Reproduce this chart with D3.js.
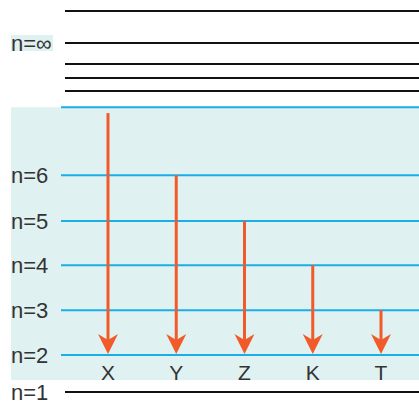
<!DOCTYPE html>
<html>
<head>
<meta charset="utf-8">
<script src="https://cdn.jsdelivr.net/npm/d3@7"></script>
<style>
  body { margin: 0; background: #fff; }
  text { font-family: "Liberation Sans", Arial, sans-serif; fill: #333; }
</style>
</head>
<body>
<div id="chart"></div>
<script>
// energy levels (not to scale, arbitrary units)
const levelLabels = ["n=1", "n=2", "n=3", "n=4", "n=5", "n=6", "", "", "", "", "n=∞", ""];
const levelValues = [0, 0.82, 1.82, 2.82, 3.8, 4.82, 6.33, 6.69, 6.98, 7.29, 7.76, 8.47];

// transitions down to n=2
const transitionNames = ["X", "Y", "Z", "K", "T"];
const transitionFrom = [6.2, 4.82, 3.8, 2.82, 1.82];
const transitionTo = [0.82, 0.82, 0.82, 0.82, 0.82];

const width = 419, height = 401;

const svg = d3.select("#chart")
  .append("svg")
  .attr("width", width)
  .attr("height", height);

const y = d3.scaleLinear().domain([0, 8.47]).range([392, 11]);
const x = d3.scalePoint().domain(transitionNames).range([108, 381]);

const levels = levelLabels.map((label, i) => ({ label: label, value: levelValues[i], i: i }));
// levels n=2 .. top blue line sit on the shaded band
const inBand = d => d.i >= 1 && d.i <= 6;

// shaded band
svg.append("rect")
  .attr("x", 11)
  .attr("y", y(levelValues[6]))
  .attr("width", width - 11)
  .attr("height", y(levelValues[1]) + 25 - y(levelValues[6]))
  .attr("fill", "#e0f1f1");

// level lines
svg.append("g")
  .selectAll("line")
  .data(levels)
  .enter()
  .append("line")
  .attr("x1", d => inBand(d) ? 61 : 65)
  .attr("x2", width)
  .attr("y1", d => y(d.value))
  .attr("y2", d => y(d.value))
  .attr("stroke", d => inBand(d) ? "#1aaee6" : "#111")
  .attr("stroke-width", 2);

// background behind n=∞ label
const infLevel = levels.find(d => d.label === "n=∞");
svg.append("rect")
  .attr("x", 11)
  .attr("y", y(infLevel.value) - 8)
  .attr("width", 42)
  .attr("height", 16)
  .attr("fill", "#e0f1f1");

// level labels
svg.append("g")
  .selectAll("text")
  .data(levels.filter(d => d.label))
  .enter()
  .append("text")
  .attr("x", 11)
  .attr("y", d => y(d.value))
  .attr("dy", "0.36em")
  .style("font-size", "22px")
  .text(d => d.label);

// arrows
const arrows = svg.append("g")
  .selectAll("g")
  .data(transitionNames.map((name, i) => ({ name: name, from: transitionFrom[i], to: transitionTo[i] })))
  .enter()
  .append("g");

arrows.append("line")
  .attr("x1", d => x(d.name))
  .attr("x2", d => x(d.name))
  .attr("y1", d => y(d.from))
  .attr("y2", d => y(d.to) - 15)
  .attr("stroke", "#f15a29")
  .attr("stroke-width", 3);

arrows.append("path")
  .attr("d", d => {
    const cx = x(d.name), ty = y(d.to) - 1;
    return `M${cx},${ty} L${cx - 10},${ty - 20} L${cx},${ty - 14} L${cx + 10},${ty - 20} Z`;
  })
  .attr("fill", "#f15a29");

arrows.append("text")
  .attr("x", d => x(d.name))
  .attr("y", 380)
  .attr("text-anchor", "middle")
  .style("font-size", "21px")
  .text(d => d.name);
</script>
</body>
</html>
